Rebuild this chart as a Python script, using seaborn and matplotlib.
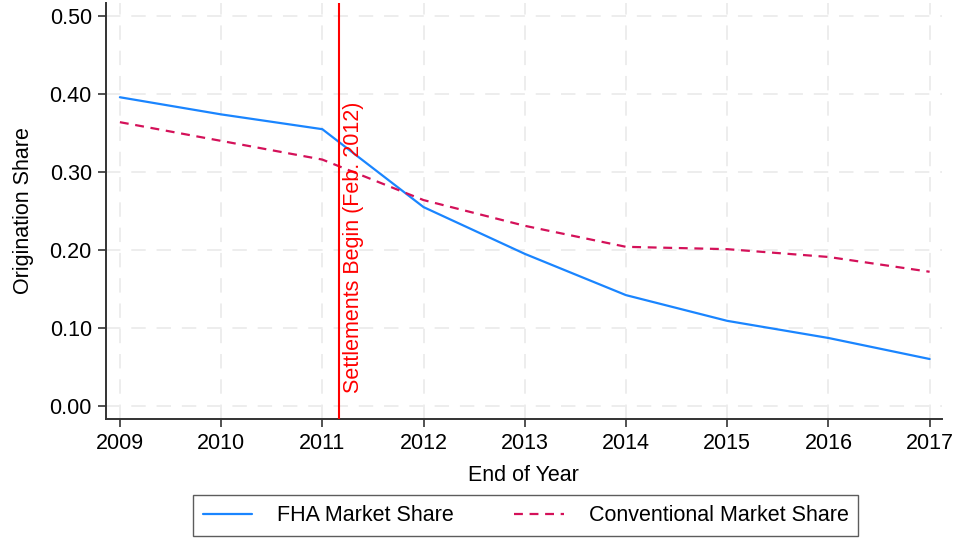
import matplotlib
matplotlib.use("Agg")
import matplotlib.pyplot as plt
import seaborn as sns
import pandas as pd
import numpy as np
from matplotlib.lines import Line2D

years = [2009, 2010, 2011, 2012, 2013, 2014, 2015, 2016, 2017]
fha_share = [0.396, 0.374, 0.355, 0.255, 0.195, 0.142, 0.109, 0.087, 0.060]
conv_share = [0.364, 0.340, 0.316, 0.264, 0.231, 0.204, 0.201, 0.191, 0.172]
series_names = ["FHA Market Share", "Conventional Market Share"]
y_ticks = [0.0, 0.1, 0.2, 0.3, 0.4, 0.5]
y_tick_labels = ["0.00", "0.10", "0.20", "0.30", "0.40", "0.50"]
event_x = 2011 + 2 / 12
event_label = "Settlements Begin (Feb. 2012)"

df = pd.DataFrame({
    "year": years * 2,
    "share": fha_share + conv_share,
    "series": [series_names[0]] * len(years) + [series_names[1]] * len(years),
})

sns.set_theme(style="white")
plt.rcParams["font.family"] = ["Liberation Sans", "DejaVu Sans"]
plt.rcParams["text.color"] = "black"
plt.rcParams["axes.labelcolor"] = "black"
plt.rcParams["xtick.color"] = "black"
plt.rcParams["ytick.color"] = "black"
FS = 15.5

fig = plt.figure(figsize=(9.61, 5.41), dpi=100)
ax = fig.add_axes([0.110, 0.2255, 0.870, 0.769])

palette = {series_names[0]: "#1a85ff", series_names[1]: "#d41159"}
sns.lineplot(data=df, x="year", y="share", hue="series", style="series",
             palette=palette, dashes={series_names[0]: "", series_names[1]: (4, 3)},
             linewidth=1.6, ax=ax, legend=False)

ax.set_xlim(2008.86, 2017.12)
ax.set_ylim(-0.017, 0.517)
ax.set_xticks(years)
ax.set_xticklabels([str(y) for y in years])
ax.set_yticks(y_ticks)
ax.set_yticklabels(y_tick_labels)
ax.tick_params(axis="both", which="both", direction="out", length=6, width=1.2,
               color="#333333", labelcolor="black", labelsize=FS,
               bottom=True, left=True, pad=4)

for y in y_ticks:
    ax.axhline(y, color="#ececec", lw=1.3, ls=(0, (8, 6)), zorder=0)
for x in years:
    ax.axvline(x, color="#ececec", lw=1.3, ls=(0, (8, 6)), zorder=0)

for s in ["top", "right"]:
    ax.spines[s].set_visible(False)
for s in ["left", "bottom"]:
    ax.spines[s].set_color("#333333")
    ax.spines[s].set_linewidth(1.4)

ax.axvline(event_x, color="#ff0000", lw=1.5, zorder=3)
ax.text(event_x + 0.035, 0.017, event_label, rotation=90, color="#ff0000",
        fontsize=FS, ha="left", va="bottom")

ax.set_xlabel("End of Year", fontsize=FS, labelpad=8, color="black")
ax.set_ylabel("Origination Share", fontsize=FS, labelpad=11, color="black")

handles = [Line2D([], [], color="#1a85ff", lw=1.6),
           Line2D([], [], color="#d41159", lw=1.6, ls=(0, (4, 3)))]
leg = fig.legend(handles, series_names, loc="center", bbox_to_anchor=(0.547, 0.047),
                 ncol=2, fontsize=FS, frameon=True, fancybox=False,
                 edgecolor="#333333", handlelength=2.3, columnspacing=2.8,
                 handletextpad=1.15, borderpad=0.45, borderaxespad=0,
                 labelcolor="black")
leg.get_frame().set_linewidth(1.0)

fig.savefig("out.png", dpi=100)
